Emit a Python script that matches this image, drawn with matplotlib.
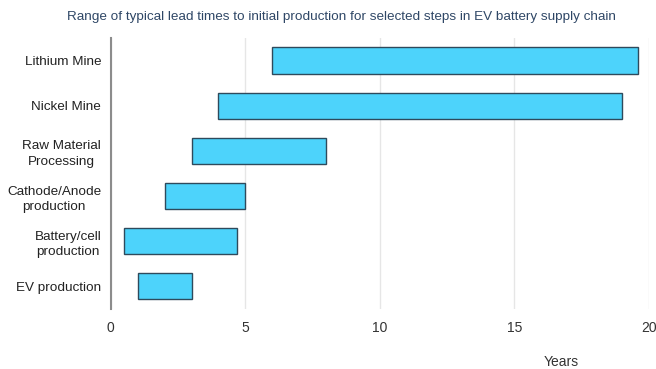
import matplotlib
matplotlib.use("Agg")
import matplotlib.pyplot as plt

plt.rcParams['font.family'] = ['Liberation Sans', 'DejaVu Sans']

steps = ["Lithium Mine", "Nickel Mine", "Raw Material\nProcessing",
         "Cathode/Anode\nproduction", "Battery/cell\nproduction", "EV production"]
start_years = [6.0, 4.0, 3.0, 2.0, 0.5, 1.0]
end_years = [19.6, 19.0, 8.0, 5.0, 4.7, 3.0]
x_ticks = [0, 5, 10, 15, 20]

fig = plt.figure(figsize=(6.56, 3.69), dpi=100)
ax = fig.add_axes([0.169, 0.163, 0.820, 0.734])

ypos = list(range(len(steps)))
widths = [e - s for s, e in zip(start_years, end_years)]
ax.barh(ypos, widths, left=start_years, height=0.58,
        color="#4DD3FB", edgecolor="#2E4A5C", linewidth=1.0, zorder=3)

ax.set_ylim(len(steps) - 0.5, -0.5)
ax.set_xlim(0, 20)
ax.set_xticks(x_ticks)
ax.set_yticks(ypos)
ax.set_yticklabels(steps, fontsize=9.7, color="#222222",
                   multialignment="center", linespacing=1.35)
ax.tick_params(axis="x", labelsize=10, colors="#333333", length=0, pad=9)
ax.tick_params(axis="y", length=0, pad=7)

ax.grid(axis="x", color="#E6E6E6", linewidth=1.0, zorder=0)
for side in ["top", "right", "bottom"]:
    ax.spines[side].set_visible(False)
ax.spines["left"].set_color("#8C8C8C")
ax.spines["left"].set_linewidth(1.5)

fig.text(0.52, 0.953, "Range of typical lead times to initial production for selected steps in EV battery supply chain",
         ha="center", va="center", fontsize=9.7, color="#2F4766")
fig.text(0.855, 0.02, "Years", ha="center", va="center", fontsize=10, color="#333333")

fig.savefig("out.png", dpi=100)
